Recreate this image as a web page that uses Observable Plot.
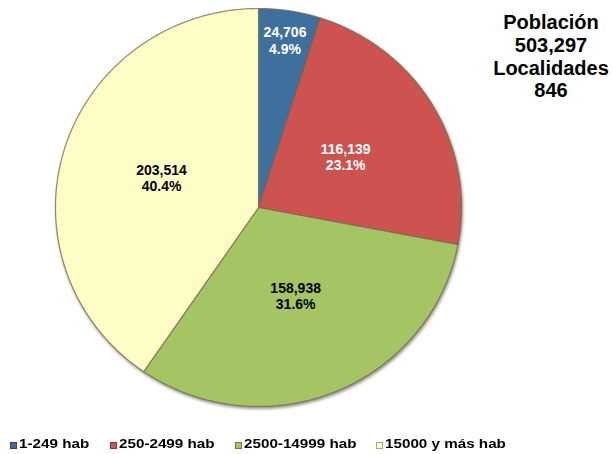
<!DOCTYPE html>
<html><head><meta charset="utf-8">
<script src="https://cdn.jsdelivr.net/npm/d3@7"></script>
<script src="https://cdn.jsdelivr.net/npm/@observablehq/plot@0.6"></script>
<style>
body{margin:0;background:#fff;font-family:"Liberation Sans",Arial,sans-serif;}
#wrap{position:relative;width:613px;height:454px;overflow:hidden;}
#title{position:absolute;left:481px;top:11px;width:140px;text-align:center;font-weight:bold;font-size:20px;line-height:22.8px;color:#000;}
#legend{position:absolute;top:436px;left:0;width:613px;height:18px;font-weight:bold;font-size:13px;color:#000;}
.item{position:absolute;top:0;white-space:nowrap;}
.sw{position:absolute;top:5.5px;width:7px;height:7px;box-sizing:border-box;border:1px solid rgba(0,0,0,0.35);}
.tx{position:absolute;top:0;display:inline-block;transform:scaleX(1.17);transform-origin:left center;}
svg g[aria-label="line"]{filter:drop-shadow(1px 2px 1.5px rgba(60,55,30,0.55));}
</style></head><body>
<div id="wrap"><div id="chart"></div><div id="title"></div><div id="legend"></div></div>
<script>
const categories = ["1-249 hab","250-2499 hab","2500-14999 hab","15000 y más hab"];
const values = [24706,116139,158938,203514];
const colors = ["#3f6f9d","#cd5350","#a5c564","#fffdc6"];
const labelColors = ["#ffffff","#ffffff","#000000","#000000"];
const titleLines = ["Población","503,297","Localidades","846"];

const W = 613, H = 420, cx = 258, cy = 207, rx = 203, ry = 199;
const total = d3.sum(values);
const arcs = d3.pie().sort(null).value(d => d.value)(categories.map((c,i)=>({cat:c, value:values[i], i})));

const pts = [];
arcs.forEach(a => {
  const c = a.data.cat;
  pts.push({cat:c, x:0, y:0});
  const n = Math.max(4, Math.ceil((a.endAngle - a.startAngle) / 0.01));
  for (let k = 0; k <= n; k++) {
    const t = a.startAngle + (a.endAngle - a.startAngle) * k / n;
    pts.push({cat:c, x:Math.sin(t), y:Math.cos(t)});
  }
  pts.push({cat:c, x:0, y:0});
});

const radiusFactor = [0.85, 0.5, 0.48, 0.5];
const labels = arcs.map(a => {
  const m = (a.startAngle + a.endAngle) / 2;
  const r = radiusFactor[a.data.i];
  return {
    x: r * Math.sin(m), y: r * Math.cos(m),
    text: d3.format(",")(a.data.value) + "\n" + d3.format(".1%")(a.data.value / total),
    color: labelColors[a.data.i]
  };
});

const chart = Plot.plot({
  width: W, height: H, margin: 0,
  x: {domain: [-cx/rx, (W-cx)/rx], axis: null},
  y: {domain: [-(H-cy)/ry, cy/ry], axis: null},
  color: {domain: categories, range: colors},
  marks: [
    Plot.line(pts, {x:"x", y:"y", z:"cat", fill:"cat", stroke:"#6f6a50", strokeWidth:1.2, strokeOpacity:0.75, curve:"linear"}),
    Plot.text(labels, {x:"x", y:"y", text:"text", fill: d => d.color, fontSize:14, fontWeight:"bold", fontFamily:"Liberation Sans, Arial, sans-serif", lineHeight:1.17})
  ]
});
document.getElementById("chart").appendChild(chart);

document.getElementById("title").innerHTML = titleLines.map(t => `<div>${t}</div>`).join("");

const legendX = [10, 110, 235, 376];
const leg = document.getElementById("legend");
categories.forEach((c,i) => {
  const it = document.createElement("div");
  it.className = "item";
  it.style.left = legendX[i] + "px";
  it.innerHTML = `<span class="sw" style="left:0;background:${colors[i]}"></span><span class="tx" style="left:9px">${c}</span>`;
  leg.appendChild(it);
});
</script>
</body></html>
